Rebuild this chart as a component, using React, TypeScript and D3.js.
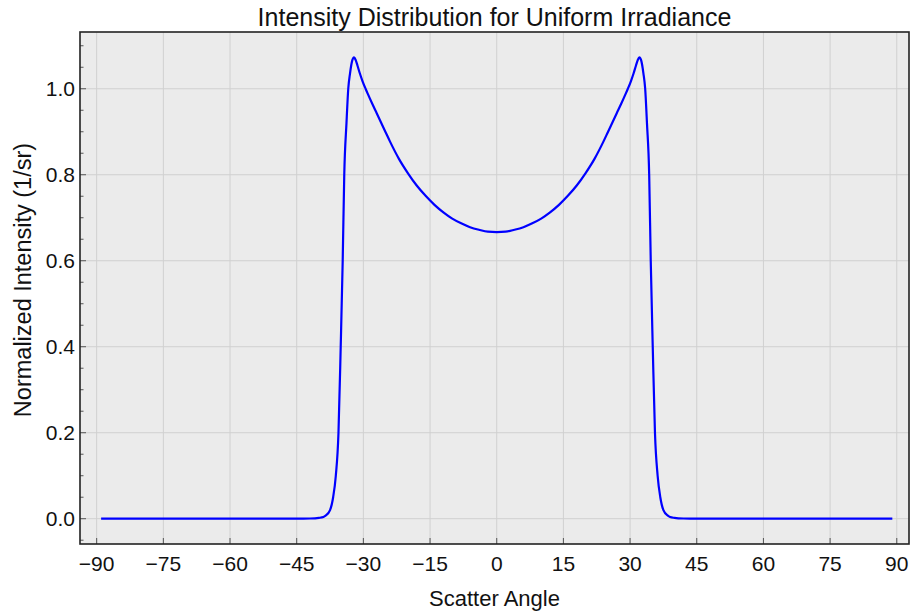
import * as d3 from "d3";

// scatter angle (deg) and normalized intensity (1/sr)
const angles = [
  -89, -80, -70, -60, -50, -45, -42, -40, -39, -38.5, -37.5, -36.8, -36.2, -35.6,
  -35.1, -34.65, -34.3, -33.8, -33.4, -33, -32.5, -32.1, -31.7, -31.3, -30.8, -30.2,
  -29.5, -29, -28, -27, -26, -25, -24, -22, -20, -18, -16, -14, -12, -10, -8, -6, -4, -2,
  0,
  2, 4, 6, 8, 10, 12, 14, 16, 18, 20, 22, 24, 25, 26, 27, 28, 29, 29.5,
  30.2, 30.8, 31.3, 31.7, 32.1, 32.5, 33, 33.4, 33.8, 34.3, 34.65, 35.1, 35.6, 36.2,
  36.8, 37.5, 38.5, 39, 40, 42, 45, 50, 60, 70, 80, 89,
];
const intensity = [
  0, 0, 0, 0, 0, 0, 0.0005, 0.002, 0.004, 0.007, 0.02, 0.05, 0.1, 0.2,
  0.4, 0.6, 0.8, 0.92, 1.0, 1.036, 1.066, 1.073, 1.066, 1.053, 1.036, 1.018,
  1.0, 0.988, 0.965, 0.943, 0.921, 0.899, 0.877, 0.837, 0.804, 0.775, 0.751, 0.73, 0.7125, 0.698, 0.687, 0.678, 0.672, 0.6675,
  0.6667,
  0.6675, 0.672, 0.678, 0.687, 0.698, 0.7125, 0.73, 0.751, 0.775, 0.804, 0.837, 0.877, 0.899, 0.921, 0.943, 0.965, 0.988, 1.0,
  1.018, 1.036, 1.053, 1.066, 1.073, 1.066, 1.036, 1.0, 0.92, 0.8, 0.6, 0.4, 0.2, 0.1,
  0.05, 0.02, 0.007, 0.004, 0.002, 0.0005, 0, 0, 0, 0, 0, 0,
];

const xTicks = [-90, -75, -60, -45, -30, -15, 0, 15, 30, 45, 60, 75, 90];
const yTicks = [0, 0.2, 0.4, 0.6, 0.8, 1.0];
const yMinor = [-0.05, 0.05, 0.1, 0.15, 0.25, 0.3, 0.35, 0.45, 0.5, 0.55, 0.65, 0.7, 0.75, 0.85, 0.9, 0.95, 1.05, 1.1];

const title = "Intensity Distribution for Uniform Irradiance";
const xLabel = "Scatter Angle";
const yLabel = "Normalized Intensity (1/sr)";

const width = 910;
const height = 613;
const marginLeft = 80;
const marginRight = 1;
const marginTop = 32;
const marginBottom = 69;
const font = "'Liberation Sans', Arial, sans-serif";

export default function App() {
  const x = d3
    .scaleLinear()
    .domain([-93.75, 92.75])
    .range([marginLeft, width - marginRight]);
  const y = d3
    .scaleLinear()
    .domain([-0.0588, 1.132])
    .range([height - marginBottom, marginTop]);

  const data = angles.map((a, i) => [a, intensity[i]] as [number, number]);
  const line = d3
    .line<[number, number]>()
    .x((d) => x(d[0]))
    .y((d) => y(d[1]))
    .curve(d3.curveMonotoneX);

  const left = marginLeft;
  const right = width - marginRight;
  const top = marginTop;
  const bottom = height - marginBottom;

  return (
    <svg
      width={width}
      height={height}
      style={{ position: "absolute", left: 0, top: 0, display: "block" }}
      fontFamily={font}
    >
      <rect x={left} y={top} width={right - left} height={bottom - top} fill="#ebebeb" />
      <g stroke="#d0d0d0" strokeWidth={1}>
        {xTicks.map((t) => (
          <line key={"gx" + t} x1={x(t)} x2={x(t)} y1={top} y2={bottom} />
        ))}
        {yTicks.map((t) => (
          <line key={"gy" + t} x1={left} x2={right} y1={y(t)} y2={y(t)} />
        ))}
      </g>
      <path d={line(data) ?? ""} fill="none" stroke="#0000ff" strokeWidth={2.2} strokeLinejoin="round" />
      <g stroke="#555" strokeWidth={1}>
        {xTicks.map((t) => (
          <line key={"tx" + t} x1={x(t)} x2={x(t)} y1={bottom} y2={bottom - 6} />
        ))}
        {yTicks.map((t) => (
          <line key={"ty" + t} x1={left} x2={left + 6} y1={y(t)} y2={y(t)} />
        ))}
        {yMinor.map((t) => (
          <line key={"my" + t} x1={left} x2={left + 3.5} y1={y(t)} y2={y(t)} />
        ))}
      </g>
      <rect x={left} y={top} width={right - left} height={bottom - top} fill="none" stroke="#222" strokeWidth={1.6} />
      <g fontSize={21} fill="#111">
        {xTicks.map((t) => (
          <text key={"lx" + t} x={x(t)} y={bottom + 27} textAnchor="middle">
            {t < 0 ? "\u2212" + Math.abs(t) : String(t)}
          </text>
        ))}
        {yTicks.map((t) => (
          <text key={"ly" + t} x={left - 5} y={y(t) + 7.5} textAnchor="end">
            {t.toFixed(1)}
          </text>
        ))}
      </g>
      <text x={(left + right) / 2} y={26} textAnchor="middle" fontSize={25} fill="#111">
        {title}
      </text>
      <text x={(left + right) / 2} y={606} textAnchor="middle" fontSize={22} fill="#111">
        {xLabel}
      </text>
      <text
        transform={`translate(31,280) rotate(-90)`}
        textAnchor="middle"
        fontSize={23.5}
        fill="#111"
      >
        {yLabel}
      </text>
    </svg>
  );
}
